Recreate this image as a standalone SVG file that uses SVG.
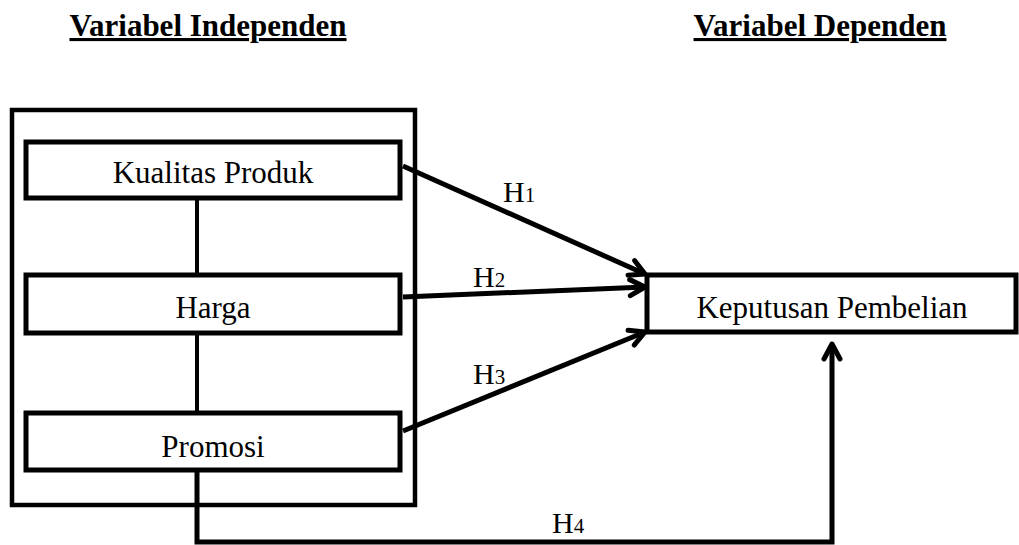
<svg xmlns="http://www.w3.org/2000/svg" width="1019" height="545" viewBox="0 0 1019 545">
  <style>
    .box { fill: #ffffff; stroke: #000000; stroke-width: 5; }
    .outer { fill: #ffffff; stroke: #000000; stroke-width: 4.5; }
    .lbl { font-family: "Liberation Serif", "Times New Roman", serif; font-size: 31px; fill: #000000; text-anchor: middle; }
    .title { font-family: "Liberation Serif", "Times New Roman", serif; font-size: 31px; font-weight: bold; fill: #000000; text-anchor: middle; text-decoration: underline; text-decoration-thickness: 4px; text-underline-offset: 3px; }
    .h { font-family: "Liberation Serif", "Times New Roman", serif; font-size: 30px; fill: #000000; }
    .sub { font-size: 21px; }
    .conn { fill: none; stroke: #000000; stroke-width: 5; }
    .link { fill: none; stroke: #000000; stroke-width: 4; }
  </style>
  <defs>
    <marker id="arr" viewBox="0 0 24 24" refX="21" refY="12" markerWidth="24" markerHeight="24" markerUnits="userSpaceOnUse" orient="auto">
      <path d="M6,4 L21,12 L6,20" fill="none" stroke="#000000" stroke-width="5" stroke-linecap="round" stroke-linejoin="round"/>
    </marker>
  </defs>
  <rect width="1019" height="545" fill="#ffffff"/>

  <g id="titles">
    <text class="title" x="208" y="36">Variabel Independen</text>
    <text class="title" x="820" y="36">Variabel Dependen</text>
  </g>

  <g id="independent-group">
    <rect class="outer" x="12" y="110" width="403" height="395"/>
  </g>

  <g id="connectors">
    <line class="link" x1="197" y1="198" x2="197" y2="275"/>
    <line class="link" x1="197" y1="333" x2="197" y2="413"/>
    <polyline class="conn" points="197,470 197,542 832,542 832,344" marker-end="url(#arr)"/>
    <line class="conn" x1="403" y1="166" x2="645" y2="274" marker-end="url(#arr)"/>
    <line class="conn" x1="403" y1="297" x2="645" y2="287" marker-end="url(#arr)"/>
    <line class="conn" x1="403" y1="431" x2="645" y2="332" marker-end="url(#arr)"/>
    <text class="h" x="503" y="202">H<tspan class="sub">1</tspan></text>
    <text class="h" x="473" y="287">H<tspan class="sub">2</tspan></text>
    <text class="h" x="473" y="384">H<tspan class="sub">3</tspan></text>
    <text class="h" x="552" y="533">H<tspan class="sub">4</tspan></text>
  </g>

  <g id="kualitas-produk">
    <rect class="box" x="26" y="142" width="374" height="56"/>
    <text class="lbl" x="213" y="183">Kualitas Produk</text>
  </g>

  <g id="harga">
    <rect class="box" x="26" y="275" width="374" height="58"/>
    <text class="lbl" x="213" y="318">Harga</text>
  </g>

  <g id="promosi">
    <rect class="box" x="26" y="413" width="374" height="57"/>
    <text class="lbl" x="213" y="457">Promosi</text>
  </g>

  <g id="keputusan-pembelian">
    <rect class="box" x="647" y="275" width="369" height="57"/>
    <text class="lbl" x="832" y="318">Keputusan Pembelian</text>
  </g>
</svg>
